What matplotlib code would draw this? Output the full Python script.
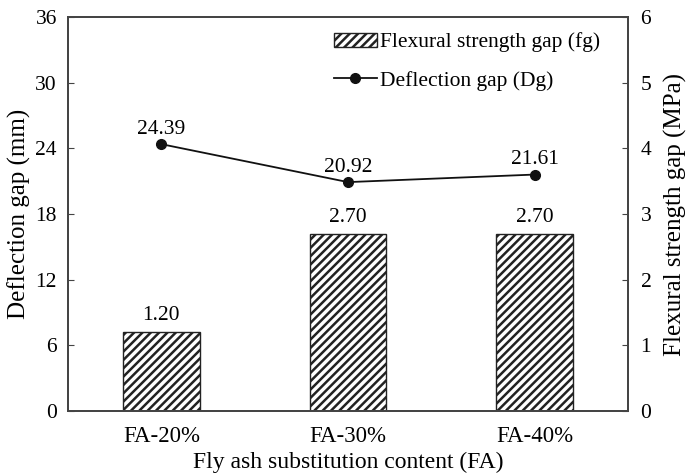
import matplotlib
matplotlib.use("Agg")
import matplotlib.pyplot as plt

plt.rcParams["font.family"] = "serif"
plt.rcParams["font.serif"] = ["Liberation Serif", "DejaVu Serif"]
plt.rcParams["hatch.linewidth"] = 1.8

# Fly ash groups and the two measured gaps
groups = ["FA-20%", "FA-30%", "FA-40%"]
flexural_gap = [1.20, 2.70, 2.70]      # MPa, right axis
deflection_gap = [24.39, 20.92, 21.61]  # mm, left axis

FS = 15.5

fig = plt.figure(figsize=(6.86, 4.75), dpi=100)
ax = fig.add_axes([0.0991, 0.1347, 0.8164, 0.8293])
ax2 = ax.twinx()

x = list(range(len(groups)))

# Bars on the MPa axis
bars = ax2.bar(x, flexural_gap, width=0.41, color="white", edgecolor="#222222",
               hatch="////", linewidth=1.0, label="Flexural strength gap (fg)")
for xi, v in zip(x, flexural_gap):
    ax2.annotate(f"{v:.2f}", (xi, v), xytext=(0, 5), textcoords="offset points",
                 ha="center", va="bottom", fontsize=FS)

# Line on the mm axis, kept above the bars
ax.set_zorder(ax2.get_zorder() + 1)
ax.patch.set_visible(False)
line, = ax.plot(x, deflection_gap, color="#111111", marker="o", markersize=7,
                linewidth=1.3, label="Deflection gap (Dg)")
for xi, v in zip(x, deflection_gap):
    ax.annotate(f"{v:.2f}", (xi, v), xytext=(0, 4), textcoords="offset points",
                ha="center", va="bottom", fontsize=FS)

ax.set_xlim(-0.5, 2.5)
ax.set_ylim(0, 36)
ax.set_yticks(range(0, 37, 6))
ax2.set_ylim(0, 6)
ax2.set_yticks(range(0, 7))
ax.set_xticks(x)
ax.set_xticklabels(groups, fontsize=16.5)

ax.tick_params(axis="y", direction="in", length=4, labelsize=FS, pad=8,
               color="#444444")
ax2.tick_params(axis="y", direction="in", length=4, labelsize=FS, pad=9,
                color="#444444")
ax.tick_params(axis="x", length=0, pad=11)

for a in (ax, ax2):
    for s in a.spines.values():
        s.set_color("#444444")
        s.set_linewidth(1.3)

ax.set_ylabel("Deflection gap (mm)", fontsize=18, labelpad=3)
ax2.set_ylabel("Flexural strength gap (MPa)", fontsize=18, labelpad=9)
ax.set_xlabel("Fly ash substitution content (FA)", fontsize=17, labelpad=3)

ax.legend([bars, line], [bars.get_label(), line.get_label()],
          loc="upper right", bbox_to_anchor=(0.985, 1.01), frameon=False,
          fontsize=FS, handlelength=2.0, handleheight=0.6, handletextpad=0.15,
          labelspacing=0.85)

fig.savefig("out.png", dpi=100)
